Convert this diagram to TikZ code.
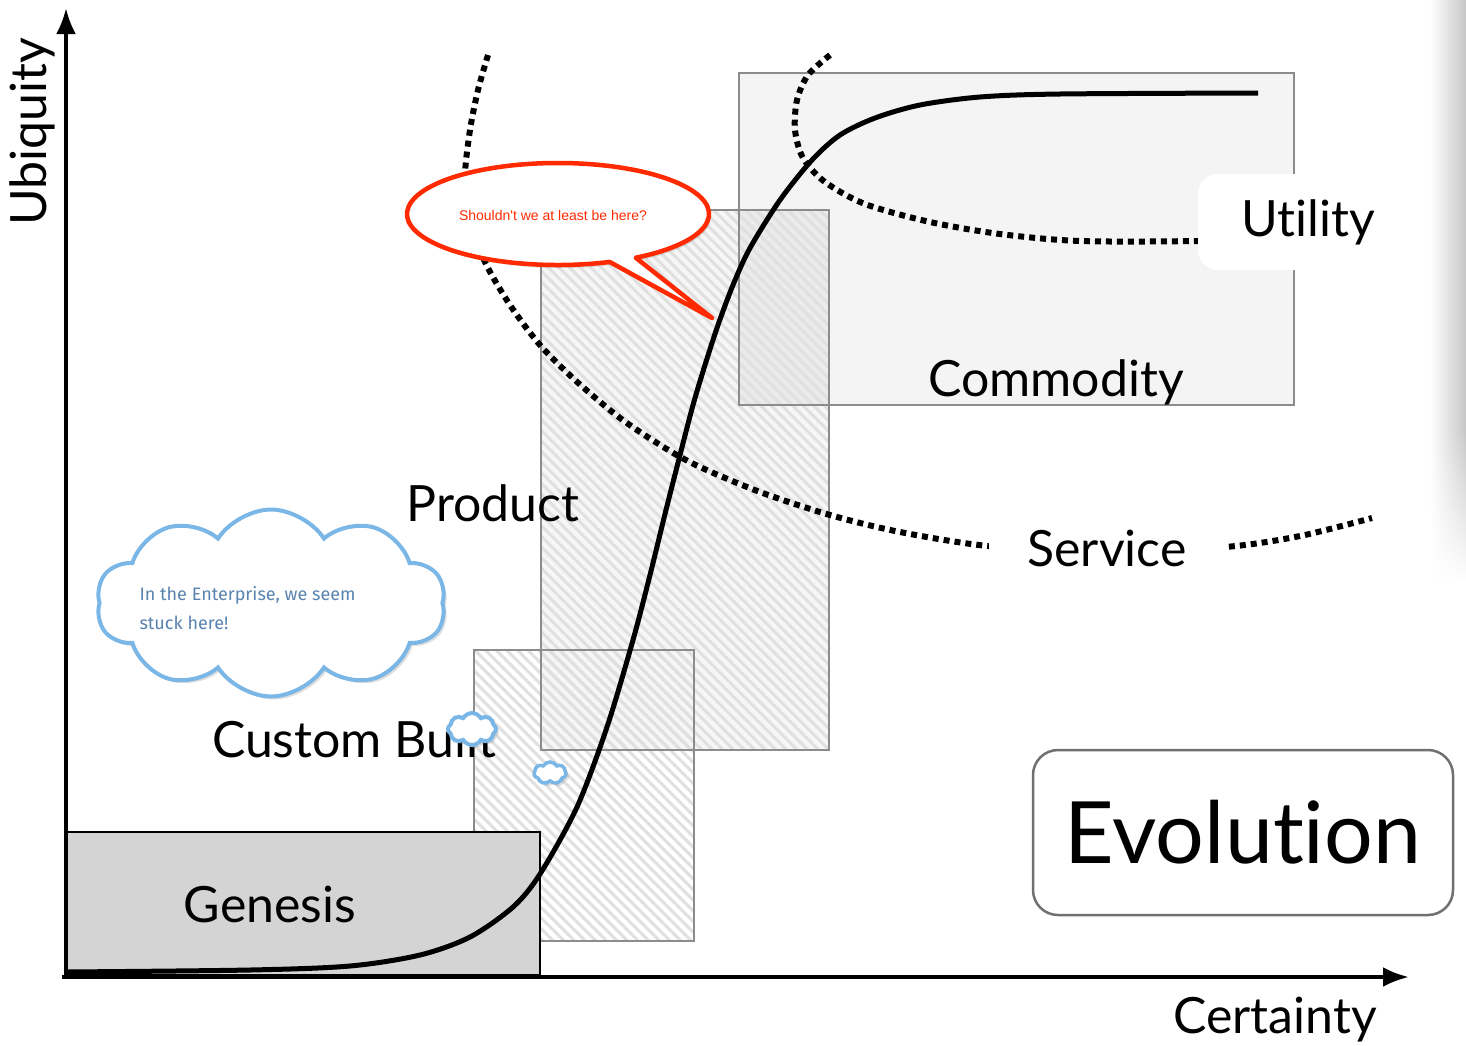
\documentclass[tikz,border=0pt]{standalone}
\usepackage{fontspec}
\usetikzlibrary{arrows.meta,patterns.meta,shapes.symbols,shadows,fadings}
\newfontfamily\gillfont{Lato}[Ligatures=NoCommon]
\newfontfamily\helvfont{Liberation Sans}
\newfontfamily\comicfont{Fira Sans}
\definecolor{genfill}{HTML}{D4D4D4}
\definecolor{commfill}{HTML}{F4F4F4}
\definecolor{boxedge}{HTML}{8C8C8C}
\definecolor{hatchcol}{HTML}{E0E0E0}
\definecolor{bubblered}{HTML}{FF2A00}
\definecolor{cloudblue}{HTML}{7AB6E6}
\definecolor{cloudtextcol}{HTML}{5A84B0}
\definecolor{evoedge}{HTML}{707070}
\tikzfading[name=fadedown, top color=transparent!0, bottom color=transparent!100]
\begin{document}
\begin{tikzpicture}[x=1pt,y=-1pt,
  lbl/.style={font=\gillfont\fontsize{50}{60}\selectfont, inner sep=0pt},
  axis/.style={line width=4pt, -{Latex[length=26pt,width=20pt]}},
  hatch/.style={pattern={Lines[angle=-45,distance=7.5pt,line width=3pt]}, pattern color=hatchcol},
  hatchedge/.style={draw=boxedge, line width=2.5pt},
  dotline/.style={line width=6pt, dash pattern=on 6pt off 5pt},
  scurve/.style={line width=5pt},
  cloudstyle/.style={cloud, draw=cloudblue, fill=white, line width=4pt,
     drop shadow={opacity=0.25, shadow xshift=3pt, shadow yshift=-3pt}},
]
\useasboundingbox (0,0) rectangle (1466,1045);
\fill[white] (0,0) rectangle (1466,1045);

% slide shadow at right edge
\shade[left color=white, right color=black!22] (1430,0) rectangle (1466,430);
\shade[left color=white, right color=black!22, path fading=fadedown] (1430,430) rectangle (1466,580);

% boxes: fills first, then edges
\fill[commfill] (739,73) rectangle (1294,405);
\path[hatch] (474,650) rectangle (694,941);
\fill[black, opacity=0.035] (541,210) rectangle (829,750);
\path[hatch] (541,210) rectangle (829,750);
\draw[draw=boxedge, line width=2pt] (739,73) rectangle (1294,405);
\draw[hatchedge] (474,650) rectangle (694,941);
\draw[hatchedge] (541,210) rectangle (829,750);
\draw[line width=2.5pt, fill=genfill] (66,832) rectangle (540,975);

% dotted boundary curves
\draw[dotline] plot[smooth] coordinates {(488,55) (478,90) (470,130) (465,175) (468,215) (485,262) (510,305) (540,345) (575,380) (620,418) (665,448) (700,467) (760,492) (830,515) (900,532) (988,546) (1100,552) (1225,547) (1300,536) (1372,518)};
\draw[dotline] plot[smooth] coordinates {(830,55) (808,75) (797,100) (795,130) (803,158) (825,182) (865,204) (930,222) (1000,234) (1080,241) (1197,241) (1290,238)};

% labels with white backing
\node[lbl, fill=white, rounded corners=20pt, minimum width=220pt, minimum height=96pt] (utility) at (1308,222) {Utility};
\node[lbl, fill=white, minimum width=237pt, minimum height=40pt] (service) at (1107,548) {Service};

% axes
\coordinate (origin) at (66,977);
\coordinate (ybase) at (66,979);
\coordinate (ytop) at (66,8);
\coordinate (xbase) at (62,977);
\coordinate (xend) at (1409,977);
\draw[axis] (ybase) -- (ytop);
\draw[axis] (xbase) -- (xend);
\node[lbl, rotate=90, anchor=base] (ubiquity) at (46,132) {Ubiquity};
\node[lbl, anchor=base] (certainty) at (1275,1033) {Certainty};

% S-curve
\draw[scurve] plot[smooth] coordinates {(66,972) (250,970) (350,966) (420,955) (470,937) (513,907) (540,874) (577,807) (607,727) (633,640) (650,575) (666,510) (680,455) (693,405) (705,365) (718,325) (733,285) (750,248) (780,200) (812,160) (840,135) (875,118) (920,105) (980,97) (1060,94) (1258,93)};

% text labels
\node[lbl, anchor=base] (genesis) at (270,922) {Genesis};
\node[lbl, anchor=base] (product) at (493,521) {Product};
\node[lbl, anchor=base] (commodity) at (1056,396) {Commodity};
\node[lbl, anchor=base] (custom) at (354,757) {Custom Built};

% evolution box
\node[draw=evoedge, line width=2.5pt, rounded corners=25pt, minimum width=420pt, minimum height=165pt,
      font=\gillfont\fontsize{86}{100}\selectfont] (evolution) at (1243,832.5) {Evolution};

% speech bubble
\draw[draw=bubblered, line width=4.5pt, fill=white, line join=round,
      drop shadow={opacity=0.25, shadow xshift=2pt, shadow yshift=-3pt}]
  (558,214) ++(59:151 and 51) arc[start angle=59, end angle=-290, x radius=151, y radius=51] -- (712,318) -- cycle;
\node[font=\helvfont\fontsize{14}{16}\selectfont, text=bubblered, anchor=base] (bubbletext) at (553,220) {Shouldn't we at least be here?};

% clouds
\node[cloudstyle, cloud puffs=10, cloud puff arc=115, aspect=1.85, minimum width=349pt, minimum height=187pt, inner sep=0pt] (cloudbig) at (271,603) {};
\node[font=\comicfont\fontsize{18}{20}\selectfont, text=cloudtextcol, anchor=base west] (cloudtextA) at (136,600) {In the Enterprise, we seem};
\node[font=\comicfont\fontsize{18}{20}\selectfont, text=cloudtextcol, anchor=base west] (cloudtextB) at (136,629) {stuck here!};
\node[cloudstyle, line width=4pt, cloud puffs=8, cloud puff arc=120, aspect=1.5, minimum width=48pt, minimum height=32pt, inner sep=0pt] (cloudsmallA) at (472,729) {};
\node[cloudstyle, line width=3.5pt, cloud puffs=7, cloud puff arc=120, aspect=1.5, minimum width=32pt, minimum height=22pt, inner sep=0pt] (cloudsmallB) at (550,773) {};
\end{tikzpicture}
\end{document}
